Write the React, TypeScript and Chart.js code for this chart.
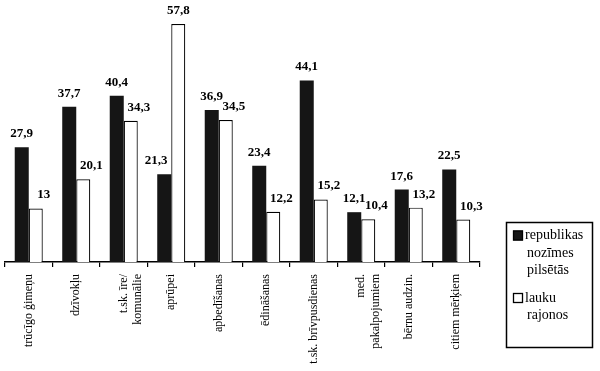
import React, { useEffect, useRef } from "react";
import { Chart, registerables } from "chart.js";

Chart.register(...registerables);

const categories: (string | string[])[] = [
  "trūcīgo ģimeņu",
  "dzīvokļu",
  ["t.sk. īre/", "komunālie"],
  "aprūpei",
  "apbedīšanas",
  "ēdināšanas",
  "t.sk. brīvpusdienas",
  ["med.", "pakalpojumiem"],
  "bērnu audzin.",
  "citiem mērķiem",
];
const cityValues = [27.9, 37.7, 40.4, 21.3, 36.9, 23.4, 44.1, 12.1, 17.6, 22.5];
const ruralValues = [13, 20.1, 34.3, 57.8, 34.5, 12.2, 15.2, 10.4, 13.2, 10.3];
const cityLegend = ["republikas", "nozīmes", "pilsētās"];
const ruralLegend = ["lauku", "rajonos"];

const SERIF = '"Liberation Serif", "Times New Roman", serif';

const valueLabels = {
  id: "valueLabels",
  afterDatasetsDraw(chart: any) {
    const ctx = chart.ctx;
    const ds = chart.data.datasets;
    ctx.save();
    ctx.font = `bold 13px ${SERIF}`;
    ctx.fillStyle = "#000";
    ctx.textAlign = "center";
    ctx.textBaseline = "alphabetic";
    ds.forEach((d: any, di: number) => {
      const meta = chart.getDatasetMeta(di);
      meta.data.forEach((bar: any, i: number) => {
        const v = d.data[i];
        const other = ds[1 - di].data[i];
        const dx = v < other ? (di === 0 ? -8 : 8) : 0;
        ctx.fillText(String(v).replace(".", ","), bar.x + dx, bar.y - 10);
      });
    });
    ctx.restore();
  },
};

const boxLegend = {
  id: "boxLegend",
  afterDraw(chart: any) {
    const ctx = chart.ctx;
    const ds = chart.data.datasets;
    const left = 506.5;
    const top = 222.5;
    const w = 86;
    const h = 125;
    ctx.save();
    ctx.lineWidth = 1.5;
    ctx.strokeStyle = "#000";
    ctx.strokeRect(left, top, w, h);
    ctx.font = `14px ${SERIF}`;
    ctx.fillStyle = "#000";
    ctx.textAlign = "left";
    ctx.textBaseline = "middle";
    const lineH = 17.5;
    let y = top + 13;
    const entries = [cityLegend, ruralLegend];
    entries.forEach((lines, di) => {
      const d = ds[di];
      ctx.fillStyle = d.backgroundColor;
      ctx.fillRect(513, y - 5, 10, 10);
      ctx.lineWidth = 1.3;
      ctx.strokeStyle = "#000";
      ctx.strokeRect(513.5, y - 4.5, 9, 9);
      ctx.fillStyle = "#000";
      lines.forEach((t, li) => {
        ctx.fillText(t, li === 0 ? 525 : 527, y + li * lineH);
      });
      y += lines.length * lineH + 10;
    });
    ctx.restore();
  },
};

export default function App() {
  const ref = useRef<HTMLCanvasElement>(null);
  useEffect(() => {
    if (!ref.current) return;
    const chart = new Chart(ref.current, {
      type: "bar",
      data: {
        labels: categories as any,
        datasets: [
          {
            label: cityLegend.join(" "),
            data: cityValues,
            backgroundColor: "#151515",
            borderColor: "#000",
            borderWidth: 0,
            categoryPercentage: 0.59,
            barPercentage: 1,
          },
          {
            label: ruralLegend.join(" "),
            data: ruralValues,
            backgroundColor: "#ffffff",
            borderColor: "#000",
            borderWidth: 1.2,
            categoryPercentage: 0.59,
            barPercentage: 1,
          },
        ],
      },
      options: {
        responsive: false,
        animation: false,
        layout: { padding: { left: 5, right: 120, top: 15, bottom: 0 } },
        plugins: {
          legend: { display: false },
          tooltip: { enabled: false },
        },
        scales: {
          x: {
            grid: {
              display: true,
              drawOnChartArea: false,
              drawTicks: true,
              tickLength: 5,
              color: "#000",
              lineWidth: 1.2,
              offset: true,
            },
            border: { display: true, color: "#000", width: 1.5 },
            ticks: {
              color: "#000",
              font: { family: SERIF, size: 12 },
              maxRotation: 90,
              minRotation: 90,
              padding: 7,
              autoSkip: false,
            },
            afterFit: (s: any) => {
              s.height = 109;
            },
          },
          y: { display: false, min: 0, max: 60 },
        },
      },
      plugins: [valueLabels, boxLegend],
    });
    return () => chart.destroy();
  }, []);
  return (
    <div style={{ position: "absolute", left: 0, top: 0, width: 600, height: 371, background: "#fff" }}>
      <canvas ref={ref} width={600} height={371} style={{ display: "block" }} />
    </div>
  );
}
